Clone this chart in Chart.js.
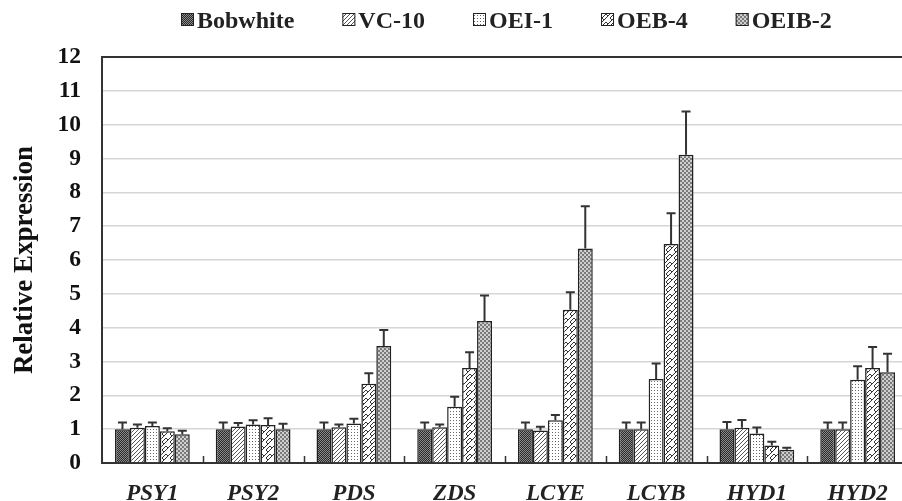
<!DOCTYPE html>
<html><head><meta charset="utf-8">
<script src="https://cdn.jsdelivr.net/npm/chart.js@4.4.0/dist/chart.umd.min.js"></script>
<style>html,body{margin:0;padding:0;overflow:hidden;background:#fff;width:902px;height:501px}
#wrap{position:relative;width:912px;height:501px}</style></head>
<body><div id="wrap"><canvas id="c" width="912" height="501"></canvas></div>
<script>
// ---- data ----
const categories = ['PSY1','PSY2','PDS','ZDS','LCYE','LCYB','HYD1','HYD2'];
const seriesNames = ['Bobwhite','VC-10','OEI-1','OEB-4','OEIB-2'];
const bobwhite    = [1.00,1.00,1.00,1.00,1.00,1.00,1.00,1.00];
const bobwhiteErr = [0.20,0.20,0.20,0.20,0.20,0.20,0.21,0.20];
const vc10        = [1.04,1.08,1.06,1.06,0.96,1.00,1.04,1.00];
const vc10Err     = [0.10,0.10,0.08,0.08,0.11,0.20,0.23,0.20];
const oei1        = [1.09,1.14,1.17,1.66,1.26,2.48,0.87,2.46];
const oei1Err     = [0.11,0.12,0.14,0.30,0.16,0.46,0.18,0.40];
const oeb4        = [0.94,1.12,2.34,2.81,4.53,6.47,0.52,2.81];
const oeb4Err     = [0.09,0.20,0.31,0.46,0.52,0.91,0.11,0.62];
const oeib2       = [0.85,1.00,3.46,4.20,6.34,9.11,0.39,2.68];
const oeib2Err    = [0.10,0.16,0.47,0.75,1.25,1.28,0.06,0.55];
const yMin = 0, yMax = 12, yStep = 1;
const yTitle = 'Relative Expression';

// ---- patterns ----
function makePattern(w, h, draw) {
  const c = document.createElement('canvas'); c.width = w; c.height = h;
  const g = c.getContext('2d'); draw(g, w, h);
  return g.createPattern(c, 'repeat');
}
const pat = [
  makePattern(2, 2, (g) => { g.fillStyle = '#2a2a2a'; g.fillRect(0,0,2,2); g.fillStyle = '#8a8a8a'; g.fillRect(0,0,1,1); g.fillRect(1,1,1,1); }),
  makePattern(4, 4, (g) => { g.fillStyle = '#fff'; g.fillRect(0,0,4,4); g.strokeStyle = '#555'; g.lineWidth = 1;
    for (let k = -4; k <= 8; k += 4) { g.beginPath(); g.moveTo(k, 4); g.lineTo(k + 4, 0); g.stroke(); } }),
  makePattern(3, 3, (g) => { g.fillStyle = '#fff'; g.fillRect(0,0,3,3); g.fillStyle = '#666'; g.fillRect(0,0,1,1); }),
  makePattern(8, 8, (g) => { g.fillStyle = '#fff'; g.fillRect(0,0,8,8); g.strokeStyle = '#333'; g.lineWidth = 1;
    g.beginPath(); g.moveTo(0,8); g.lineTo(4,4); g.lineTo(2,2); g.lineTo(4,0); g.moveTo(4,4); g.lineTo(8,0);
    g.moveTo(4,8); g.lineTo(6,6); g.lineTo(8,8); g.stroke(); }),
  makePattern(4, 4, (g) => { g.fillStyle = '#cfcfcf'; g.fillRect(0,0,4,4); g.fillStyle = '#7a7a7a'; g.fillRect(0,0,2,2); g.fillRect(2,2,2,2); })
];
const values = [bobwhite, vc10, oei1, oeb4, oeib2];
const errors = [bobwhiteErr, vc10Err, oei1Err, oeb4Err, oeib2Err];

const FONT = "'Liberation Serif', 'Times New Roman', serif";
const INK = '#222';

const legendPlugin = {
  id: 'customLegend',
  afterDraw(chart) {
    const ctx = chart.ctx; ctx.save();
    ctx.font = 'bold 24px ' + FONT; ctx.textBaseline = 'alphabetic'; ctx.textAlign = 'left';
    let x = 181; const box = 13, top = 13, base = 28;
    chart.data.datasets.forEach((ds) => {
      ctx.fillStyle = ds.backgroundColor; ctx.fillRect(x, top, box, box);
      ctx.strokeStyle = INK; ctx.lineWidth = 1; ctx.strokeRect(x + 0.5, top + 0.5, box - 1, box - 1);
      ctx.fillStyle = INK; ctx.fillText(ds.label, x + box + 3, base);
      x += box + 3 + ctx.measureText(ds.label).width + 48;
    });
    ctx.restore();
  }
};

const errorBarPlugin = {
  id: 'errorBars',
  afterDatasetsDraw(chart) {
    const ctx = chart.ctx, ys = chart.scales.y; ctx.save();
    ctx.strokeStyle = '#333'; ctx.lineWidth = 2;
    chart.data.datasets.forEach((ds, i) => {
      const meta = chart.getDatasetMeta(i);
      meta.data.forEach((el, j) => {
        const top = ys.getPixelForValue(ds.data[j] + ds.errors[j]);
        ctx.beginPath(); ctx.moveTo(el.x, el.y); ctx.lineTo(el.x, top);
        ctx.moveTo(el.x - 4.5, top); ctx.lineTo(el.x + 4.5, top); ctx.stroke();
      });
    });
    ctx.restore();
  }
};

const catTickPlugin = {
  id: 'catTicks',
  afterDraw(chart) {
    const ctx = chart.ctx, xs = chart.scales.x, bottom = chart.chartArea.bottom; ctx.save();
    const half = (xs.getPixelForValue(1) - xs.getPixelForValue(0)) / 2;
    ctx.strokeStyle = '#333'; ctx.lineWidth = 1.5;
    for (let i = 1; i < categories.length; i++) {
      const x = Math.round(xs.getPixelForValue(i) - half) + 0.5;
      ctx.beginPath(); ctx.moveTo(x, bottom); ctx.lineTo(x, bottom - 7); ctx.stroke();
    }
    ctx.restore();
  }
};

new Chart(document.getElementById('c'), {
  type: 'bar',
  data: {
    labels: categories,
    datasets: seriesNames.map((n, i) => ({
      label: n, data: values[i], errors: errors[i],
      backgroundColor: pat[i], borderColor: INK, borderWidth: 1.5,
      categoryPercentage: 0.742, barPercentage: 1.0
    }))
  },
  options: {
    responsive: false, animation: false,
    layout: { padding: { top: 57, right: 4, bottom: 0, left: 0 } },
    plugins: { legend: { display: false }, tooltip: { enabled: false } },
    scales: {
      x: {
        grid: { display: false, drawTicks: false },
        border: { display: true, color: '#333', width: 2 },
        ticks: { color: INK, padding: 17, font: { family: FONT, size: 23, weight: 'bold', style: 'italic' } },
        afterFit(s) { s.height = 38; }
      },
      y: {
        min: yMin, max: yMax,
        grid: { drawTicks: false,
          color: (c) => c.tick && c.tick.value === yMax ? '#333' : '#d6d6d6',
          lineWidth: (c) => c.tick && c.tick.value === yMax ? 2 : 1.5 },
        border: { display: true, color: '#333', width: 2 },
        ticks: { stepSize: yStep, color: '#111', padding: 21, font: { family: FONT, size: 23.5, weight: 'bold' } },
        title: { display: true, text: yTitle, color: '#111', padding: { top: 9, bottom: 0 }, font: { family: FONT, size: 27, weight: 'bold' } },
        afterFit(s) { s.width = 102; }
      }
    }
  },
  plugins: [legendPlugin, errorBarPlugin, catTickPlugin]
});
</script>
</body></html>
